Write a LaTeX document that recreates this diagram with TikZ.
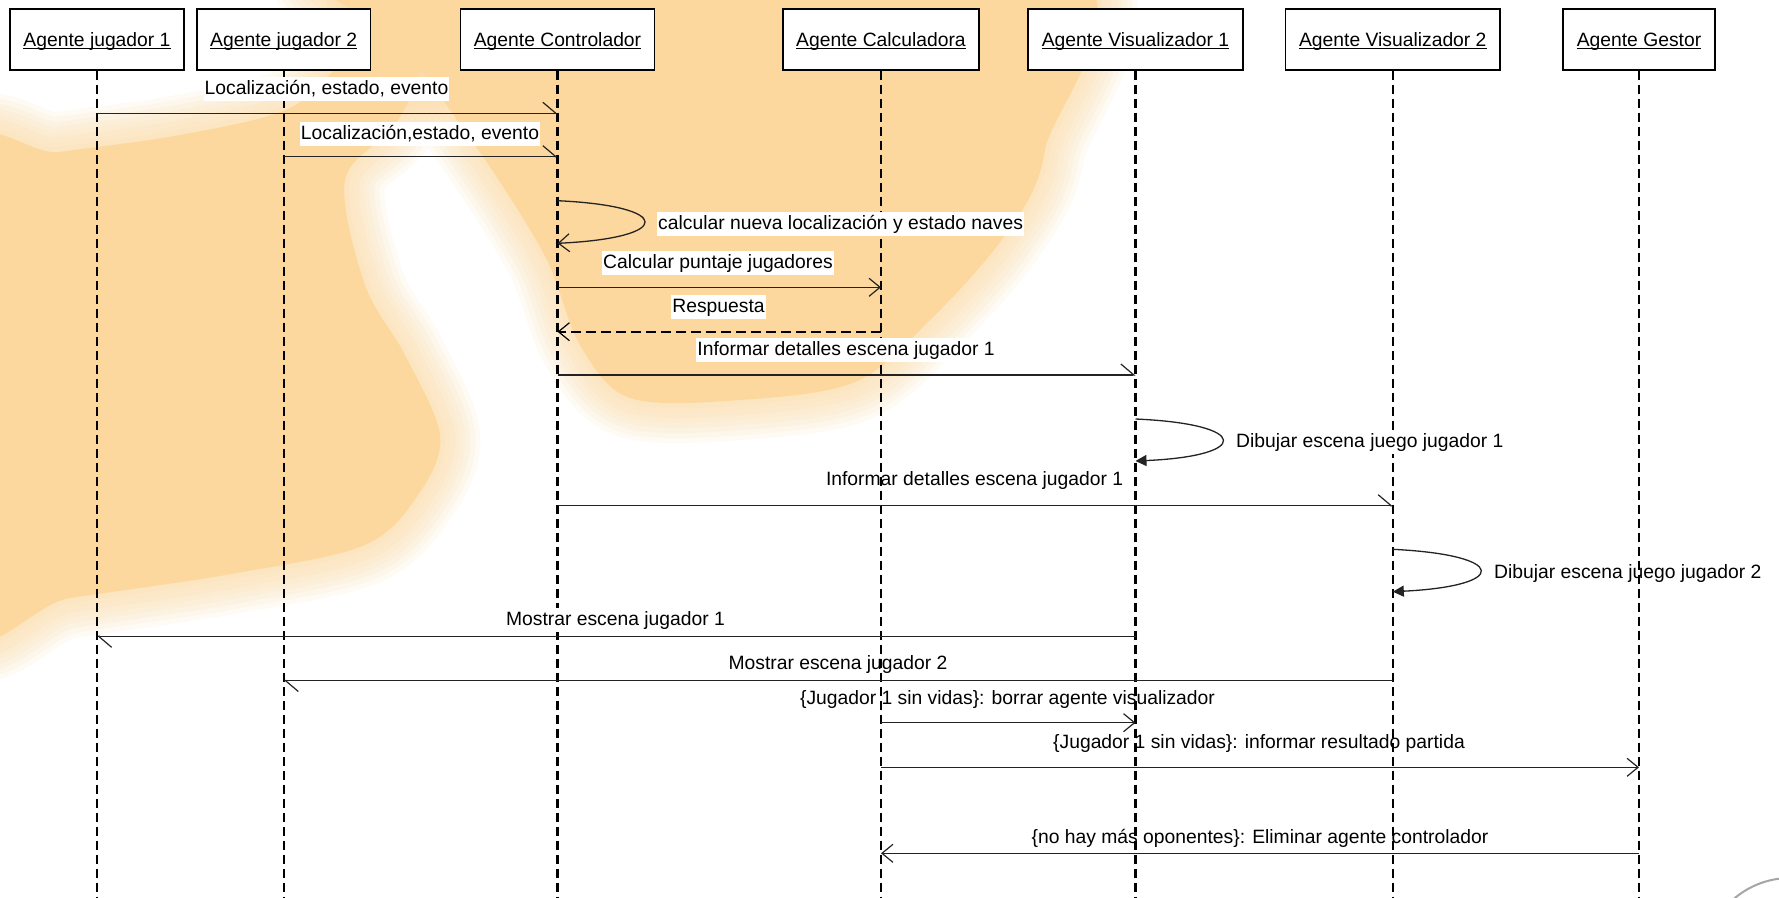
\documentclass[tikz,border=0pt]{standalone}
\usepackage{fontspec}
\setmainfont{Liberation Sans}
\usetikzlibrary{arrows.meta}

\definecolor{blob}{RGB}{252,216,158}
\definecolor{msgline}{RGB}{35,35,35}
\definecolor{ringgray}{RGB}{165,165,165}

% underlined agent name, the rule crossing the descenders
\newcommand\agentname[1]{\setbox0\hbox{#1}\rlap{\rule[-2.4pt]{\wd0}{1.3pt}}\box0}

% soft-edged decorative patch: a solid core with fading rims
\newcommand\softpatch[1]{%
  \foreach \w in {80,70,60,50,40,30,20,10}{%
    \draw[blob, line width=\w pt, opacity=0.11, line join=round]
      plot[smooth cycle, tension=0.55] coordinates {#1};}
  \fill[blob] plot[smooth cycle, tension=0.55] coordinates {#1};}

\tikzset{
  txt/.style={font=\fontsize{19.3}{23}\selectfont},
  agent/.style={txt, draw=black, line width=1.4pt, fill=white,
    minimum height=61pt, inner sep=0pt, text height=13.8pt, text depth=0pt},
  lifeline/.style={line width=2.2pt, dash pattern=on 9pt off 5pt},
  msg/.style={draw=msgline, line width=1.3pt},
  reply/.style={draw=black, line width=2pt, dash pattern=on 10pt off 5pt},
  halfhead/.style={-{Straight Barb[left, length=13pt, width=22pt, line width=1.2pt]}},
  openhead/.style={-{Straight Barb[length=11pt, width=18pt, line width=1.2pt]}},
  solidhead/.style={-{Triangle[length=11pt, width=11pt]}},
  lbl/.style={txt, fill=white, inner xsep=1pt, inner ysep=2pt,
    text height=15.5pt, text depth=4.5pt, anchor=base},
  plainlbl/.style={txt, inner xsep=1pt, inner ysep=2pt,
    text height=15.5pt, text depth=4.5pt, anchor=base},
}

\begin{document}
\begin{tikzpicture}[x=1pt, y=-1pt]
\useasboundingbox (0,0) rectangle (1779,897);
\fill[white] (0,0) rectangle (1779,897);

% background patches
\begin{scope}
\clip (0,0) rectangle (1779,897);
\softpatch{(345,-40) (1050,-40) (1045,150) (1005,235) (930,320) (855,382)
  (740,400) (630,398) (580,345) (548,262) (500,182) (450,110) (400,40)}
\softpatch{(-40,168) (60,152) (180,135) (290,108) (345,55) (370,0) (420,60)
  (395,125) (345,180) (365,285) (405,355) (440,435) (420,492) (365,545)
  (231,574) (70,598) (-40,615)}
\draw[ringgray, line width=2pt] (1790,964) circle (86);
\end{scope}

% agents
\node[agent, minimum width=174pt]   (A1) at (97,39.5)     {\agentname{Agente jugador 1}};
\node[agent, minimum width=173.4pt] (A2) at (283.7,39.5)  {\agentname{Agente jugador 2}};
\node[agent, minimum width=194pt]   (C)  at (557.5,39.5)  {\agentname{Agente Controlador}};
\node[agent, minimum width=196pt]   (K)  at (881,39.5)    {\agentname{Agente Calculadora}};
\node[agent, minimum width=215pt]   (V1) at (1135.5,39.5) {\agentname{Agente Visualizador 1}};
\node[agent, minimum width=214.4pt] (V2) at (1392.8,39.5) {\agentname{Agente Visualizador 2}};
\node[agent, minimum width=152pt]   (G)  at (1639,39.5)   {\agentname{Agente Gestor}};

% lifelines
\foreach \a in {A1,A2,C,K,V1,V2,G}
  \draw[lifeline] (\a.south) -- (\a.south |- 0,897);

% messages
\draw[msg, halfhead] (A1 |- 0,113.3) -- (C |- 0,113.3);
\draw[msg, halfhead] (A2 |- 0,156.7) -- (C |- 0,156.7);
\draw[msg, openhead] (C |- 0,200.7) .. controls (674,206) and (674,238) .. (C |- 0,243.3);
\draw[msg, openhead] (C |- 0,287.3) -- (K |- 0,287.3);
\draw[reply, openhead] (K |- 0,331.7) -- (C |- 0,331.7);
\draw[msg, halfhead] (C |- 0,375) -- (V1 |- 0,375);
\draw[msg, solidhead] (V1 |- 0,419) .. controls (1251,424) and (1251,456) .. (V1 |- 0,461);
\draw[msg, halfhead] (C |- 0,505.7) -- (V2 |- 0,505.7);
\draw[msg, solidhead] (V2 |- 0,549.3) .. controls (1509,555) and (1509,586) .. (V2 |- 0,591.7);
\draw[msg, halfhead] (V1 |- 0,636.3) -- (A1 |- 0,636.3);
\draw[msg, halfhead] (V2 |- 0,680.5) -- (A2 |- 0,680.5);
\draw[msg, openhead] (K |- 0,722.7) -- (V1 |- 0,722.7);
\draw[msg, openhead] (K |- 0,767.3) -- (G |- 0,767.3);
\draw[msg, openhead] (G |- 0,853.3) -- (K |- 0,853.3);

% message labels
\node[lbl] (t1) at (326.5,94.9) {Localización, estado, evento};
\node[lbl] (t2) at (420,139.2) {Localización,estado, evento};
\node[lbl, anchor=base west] (t3) at (657,229.2) {calcular nueva localización y estado naves};
\node[lbl] (t4) at (718,268.6) {Calcular puntaje jugadores};
\node[lbl] (t5) at (718.5,312.9) {Respuesta};
\node[lbl] (t6) at (846,355.9) {Informar detalles escena jugador 1};
\node[lbl, anchor=base west] (t7) at (1235,447.9) {Dibujar escena juego jugador 1};
\node[plainlbl] (t8) at (974.6,485.7) {Informar detalles escena jugador 1};
\node[plainlbl, anchor=base west] (t9) at (1493,578.6) {Dibujar escena juego jugador 2};
\node[lbl] (t10) at (615.5,625.2) {Mostrar escena jugador 1};
\node[plainlbl] (t11) at (838,669.6) {Mostrar escena jugador 2};
\node[plainlbl] (t12) at (1007.5,704.9) {\{Jugador 1 sin vidas\}: borrar agente visualizador};
\node[plainlbl] (t13) at (1259,748.4) {\{Jugador 1 sin vidas\}: informar resultado partida};
\node[plainlbl] (t14) at (1260,843.7) {\{no hay más oponentes\}: Eliminar agente controlador};
\end{tikzpicture}
\end{document}
